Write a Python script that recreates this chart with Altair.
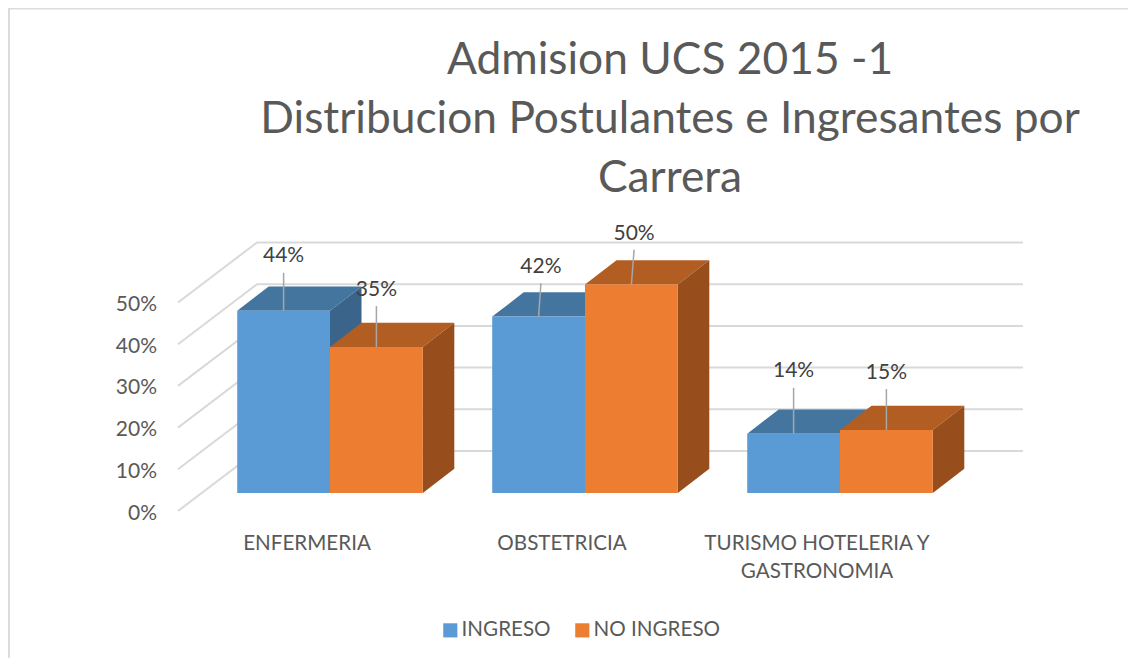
import altair as alt
import pandas as pd

# ---- values ----
categories = ["ENFERMERIA", "OBSTETRICIA", "TURISMO HOTELERIA Y\nGASTRONOMIA"]
series_names = ["INGRESO", "NO INGRESO"]
ingreso = [43.7, 42.3, 14.2]
no_ingreso = [35.0, 50.0, 15.1]
tick_values = [0, 10, 20, 30, 40, 50]
title_lines = ["Admision UCS 2015 -1", "Distribucion Postulantes e Ingresantes por", "Carrera"]

# leader line length and tilt for each data label, in pixels
leader_ingreso = [38, 33.4, 46]
leader_no_ingreso = [41, 34.7, 41]
tilt_ingreso = [0, 2.3, 0]
tilt_no_ingreso = [0, 2.7, 0]

# ---- geometry of the fake 3-D box ----
W, H = 1120, 650
PX_PER_CAT = 255.0
PX_PER_PCT = 4.17
ORIGIN_X = 322.0          # view x of the first category's centre
BASE_Y = 485.0            # view y of the bars' base (0 %)
BAR = 92.8 / PX_PER_CAT
DX = 31.5 / PX_PER_CAT
DY = 24.3 / PX_PER_PCT
FLOOR_SHIFT = 18 / PX_PER_PCT          # wall front edge is below the bar base
WALL_X0 = (170 - ORIGIN_X) / PX_PER_CAT
WALL_X1 = (249 - ORIGIN_X) / PX_PER_CAT
WALL_X2 = (1015 - ORIGIN_X) / PX_PER_CAT
WALL_DY = 60 / PX_PER_PCT

x_scale = alt.Scale(domain=[-ORIGIN_X / PX_PER_CAT, (W - ORIGIN_X) / PX_PER_CAT], nice=False, zero=False)
y_scale = alt.Scale(domain=[(BASE_Y - H) / PX_PER_PCT, BASE_Y / PX_PER_PCT], nice=False, zero=False)
X = lambda f: alt.X(f, type="quantitative", scale=x_scale, axis=None)
Y = lambda f: alt.Y(f, type="quantitative", scale=y_scale, axis=None)
FONT = "Lato"
GREY = "#595959"

# ---- tables ----
bars = []
for s, (name, vals, leads, tilts) in enumerate([
    ("INGRESO", ingreso, leader_ingreso, tilt_ingreso),
    ("NO INGRESO", no_ingreso, leader_no_ingreso, tilt_no_ingreso),
]):
    for c, v in enumerate(vals):
        left = c - BAR if s == 0 else c
        bars.append(dict(serie=name, cat=c, v=v, x0=left, x1=left + BAR, base=0.0,
                         lead=leads[c], tilt=tilts[c], label=f"{round(v)}%"))
bars = pd.DataFrame(bars)

wall = []
for t in tick_values:
    y = t - FLOOR_SHIFT
    wall += [dict(t=t, o=0, x=WALL_X0, y=y),
             dict(t=t, o=1, x=WALL_X1, y=y + WALL_DY),
             dict(t=t, o=2, x=WALL_X2, y=y + WALL_DY)]
wall = pd.DataFrame(wall)

walls = alt.Chart(wall).mark_line(color="#d9d9d9", strokeWidth=2).encode(
    x=X("x"), y=Y("y"), detail="t:N", order="o:Q")

ticks = pd.DataFrame(dict(v=[t - FLOOR_SHIFT - 2.5 / PX_PER_PCT for t in tick_values],
                          x=[(149 - ORIGIN_X) / PX_PER_CAT] * len(tick_values),
                          label=[f"{t}%" for t in tick_values]))
tick_text = alt.Chart(ticks).mark_text(font=FONT, fontSize=21, color=GREY, align="right", baseline="middle").encode(
    x=X("x"), y=Y("v"), text="label:N")


def faces(name, top_col, side_col):
    b = bars[bars.serie == name]
    tops, sides = [], []
    for r in b.itertuples():
        tops += [dict(cat=r.cat, y=r.v, a=r.x0, b=r.x1),
                 dict(cat=r.cat, y=r.v + DY, a=r.x0 + DX, b=r.x1 + DX)]
        sides += [dict(cat=r.cat, x=r.x1, a=r.base, b=r.v),
                  dict(cat=r.cat, x=r.x1 + DX, a=r.base + DY, b=r.v + DY)]
    top = alt.Chart(pd.DataFrame(tops)).mark_area(color=top_col, orient="horizontal", opacity=1).encode(
        y=Y("y"), x=X("a"), x2="b:Q", detail="cat:N")
    side = alt.Chart(pd.DataFrame(sides)).mark_area(color=side_col, orient="vertical", opacity=1).encode(
        x=X("x"), y=Y("a"), y2="b:Q", detail="cat:N")
    return [top, side]


front = alt.Chart(bars).mark_rect().encode(
    x=X("x0"), x2="x1:Q", y=Y("v"), y2="base:Q",
    color=alt.Color("serie:N",
                    scale=alt.Scale(domain=series_names, range=["#5B9BD5", "#ED7D31"]),
                    legend=alt.Legend(orient="none", legendX=432, legendY=612, direction="horizontal",
                                      title=None, symbolType="square", symbolSize=200, symbolStrokeWidth=0,
                                      labelFont=FONT, labelFontSize=20.6, labelColor=GREY,
                                      symbolOpacity=1, columnPadding=21, labelOffset=1)))

leaders = []
labels = []
for r in bars.itertuples():
    xc = (r.x0 + r.x1) / 2
    top = r.v + r.lead / PX_PER_PCT
    leaders += [dict(id=f"{r.serie}{r.cat}", o=0, x=xc, y=r.v),
                dict(id=f"{r.serie}{r.cat}", o=1, x=xc + r.tilt / PX_PER_CAT, y=top)]
    labels.append(dict(x=xc + r.tilt / PX_PER_CAT, y=top + 16.3 / PX_PER_PCT, label=r.label))

leader_lines = alt.Chart(pd.DataFrame(leaders)).mark_line(color="#a6a6a6", strokeWidth=1.5).encode(
    x=X("x"), y=Y("y"), detail="id:N", order="o:Q")
label_text = alt.Chart(pd.DataFrame(labels)).mark_text(font=FONT, fontSize=21, color="#404040",
                                                       align="center", baseline="middle").encode(
    x=X("x"), y=Y("y"), text="label:N")

cat_df = pd.DataFrame(dict(x=[c - 23 / PX_PER_CAT for c in range(len(categories))],
                           y=[(BASE_Y - 526) / PX_PER_PCT] * len(categories),
                           label=categories))
cat_text = alt.Chart(cat_df).mark_text(font=FONT, fontSize=20.6, color=GREY, align="center", baseline="top",
                                       lineBreak="\n", lineHeight=28).encode(
    x=X("x"), y=Y("y"), text="label:N")

# border of the chart frame (top and left edges of the picture's frame)
dom_x0, dom_x1 = x_scale.domain
dom_y0, dom_y1 = y_scale.domain
frame = pd.DataFrame([dict(o=0, x=dom_x0 + 1 / PX_PER_CAT, y=dom_y0),
                      dict(o=1, x=dom_x0 + 1 / PX_PER_CAT, y=dom_y1 - 0.5 / PX_PER_PCT),
                      dict(o=2, x=dom_x1, y=dom_y1 - 0.5 / PX_PER_PCT)])
frame_line = alt.Chart(frame).mark_line(color="#dcdcdc", strokeWidth=2).encode(
    x=X("x"), y=Y("y"), order="o:Q")

layers = [frame_line, walls, tick_text]
layers += faces("INGRESO", "#44759F", "#3A6489")
layers += faces("NO INGRESO", "#B25D22", "#974E1C")
layers += [front, leader_lines, label_text, cat_text]

chart = alt.layer(*layers).properties(
    width=W, height=H, padding=0,
    autosize=alt.AutoSizeParams(type="none"),
    title=alt.TitleParams(text=title_lines, font=FONT, fontSize=44.3, fontWeight="normal", color=GREY,
                          anchor="middle", align="center", baseline="top", lineHeight=59,
                          frame="group", offset=-197, dx=102),
).configure_view(stroke=None).resolve_scale(x="shared", y="shared")

chart.save("out.html", embed_options={"renderer": "svg", "actions": False})
